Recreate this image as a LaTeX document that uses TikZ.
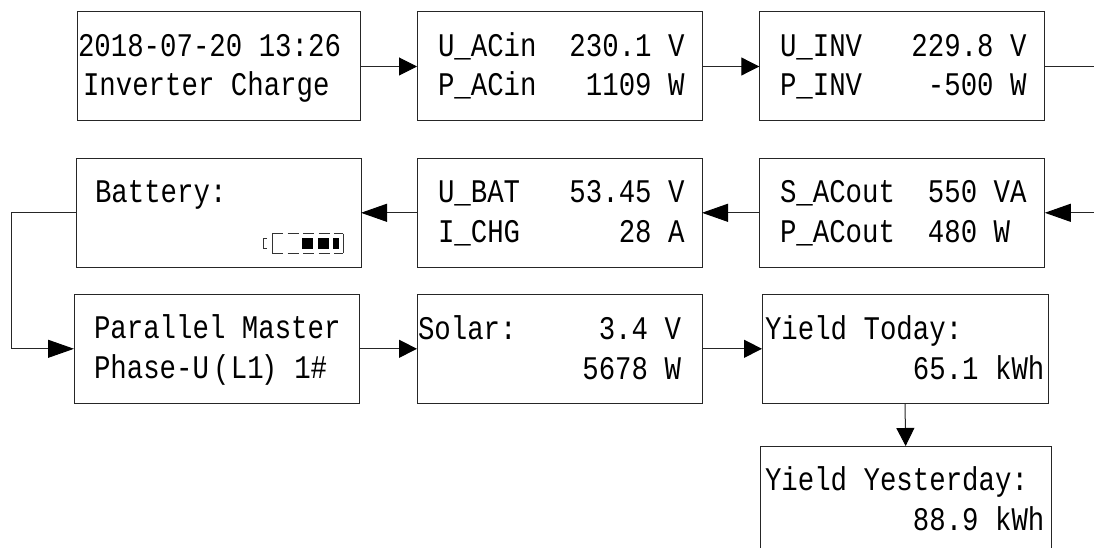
\documentclass[tikz,border=0pt]{standalone}
\usepackage{fontspec}
\setmainfont[FakeStretch=0.83]{Liberation Mono}
\usetikzlibrary{arrows.meta}
\tikzset{
  x=1pt,y=-1pt,
  lcdbox/.style={draw=black!85,line width=1pt,outer sep=0pt,inner sep=0pt,anchor=north west},
  lcdtext/.style={anchor=base west,inner sep=0pt,outer sep=0pt,font=\fontsize{33}{33}\selectfont,text=black},
  link/.style={draw=black!85,line width=1pt},
  shorthead/.style={link,-{Triangle[length=18pt,width=18pt,color=black,fill=black]}},
  longhead/.style={link,-{Triangle[length=26pt,width=18pt,color=black,fill=black]}},
}
\begin{document}
\begin{tikzpicture}
\useasboundingbox (0,0) rectangle (1094,548);
\fill[white] (0,0) rectangle (1094,548);
% boxes
\node[lcdbox,minimum width=283pt,minimum height=109pt] (time) at (77,12) {};
\node[lcdbox,minimum width=285pt,minimum height=109pt] (acin) at (417,12) {};
\node[lcdbox,minimum width=285.5pt,minimum height=109pt] (inv) at (759.3,12) {};
\node[lcdbox,minimum width=285pt,minimum height=109pt] (batt) at (76,158.3) {};
\node[lcdbox,minimum width=285pt,minimum height=109pt] (ubat) at (417,158.3) {};
\node[lcdbox,minimum width=285.5pt,minimum height=109pt] (acout) at (759.3,158.3) {};
\node[lcdbox,minimum width=285.5pt,minimum height=109pt] (par) at (74,294.3) {};
\node[lcdbox,minimum width=285pt,minimum height=109pt] (solar) at (417,294.3) {};
\node[lcdbox,minimum width=286pt,minimum height=109pt] (today) at (762,294.3) {};
\node[lcdbox,minimum width=290.7pt,minimum height=109pt] (yest) at (760.3,446) {};
% texts
\node[lcdtext] (t1) at (78,57) {2018-07-20~13:26};
\node[lcdtext] (t2) at (83,96) {Inverter~Charge};
\node[lcdtext] (a1) at (438,57) {U\_ACin~~230.1~V};
\node[lcdtext] (a2) at (438,96) {P\_ACin~~~1109~W};
\node[lcdtext] (i1) at (780,57) {U\_INV~~~229.8~V};
\node[lcdtext] (i2) at (780,96) {P\_INV~~~~-500~W};
\node[lcdtext] (b1) at (95,202) {Battery:};
\node[lcdtext] (u1) at (438,203) {U\_BAT~~~53.45~V};
\node[lcdtext] (u2) at (438,242) {I\_CHG~~~~~~28~A};
\node[lcdtext] (o1) at (780,203) {S\_ACout~~550~VA};
\node[lcdtext] (o2) at (780,242) {P\_ACout~~480~W};
\node[lcdtext] (p1) at (94,338) {Parallel~Master};
\node[lcdtext] (p2) at (94,378) {Phase-U\hspace{4pt}(\hspace{1.5pt}L1\hspace{-3pt})\hspace{17pt}1\#};
\node[lcdtext] (s1) at (418,339) {Solar:~~~~~3.4~V};
\node[lcdtext] (s2) at (418,379) {~~~~~~~~~~5678~W};
\node[lcdtext] (d1) at (765,339) {Yield~Today:};
\node[lcdtext] (d2) at (765,379) {~~~~~~~~~65.1~kWh};
\node[lcdtext] (y1) at (765,490) {Yield~Yesterday:};
\node[lcdtext] (y2) at (765,530) {~~~~~~~~~88.9~kWh};
% connectors
\coordinate (invout) at (1094,66.5);
\coordinate (acoutin) at (1094,212.8);
\draw[shorthead] (time.east) -- (acin.west);
\draw[shorthead] (acin.east) -- (inv.west);
\draw[link] (inv.east) -- (invout);
\draw[longhead] (acoutin) -- (acout.east);
\draw[longhead] (acout.west) -- (ubat.east);
\draw[longhead] (ubat.west) -- (batt.east);
\draw[longhead] (batt.west) -- (11.5,212.8) -- (11.5,348.8) -- (par.west);
\draw[shorthead] (par.east) -- (solar.west);
\draw[shorthead] (solar.east) -- (today.west);
\draw[shorthead] (today.south) -- (yest.north);
% battery icon
\draw[black!80,line width=.8pt] (267,238.5) -- (263,238.5) -- (263,248) -- (267,248);
\draw[black!80,line width=.8pt] (272,233.5) -- (272,253);
\draw[black!80,line width=.8pt] (343,233.5) -- (343,253);
\draw[black!80,line width=.8pt,dash pattern=on 11pt off 4.6pt] (272,233.5) -- (343,233.5);
\draw[black!80,line width=.8pt,dash pattern=on 11pt off 4.6pt] (272,253) -- (343,253);
\fill[black] (302,238) rectangle (312.5,249);
\fill[black] (318,238) rectangle (328.5,249);
\fill[black] (333,238) rectangle (339,249);
\end{tikzpicture}
\end{document}
